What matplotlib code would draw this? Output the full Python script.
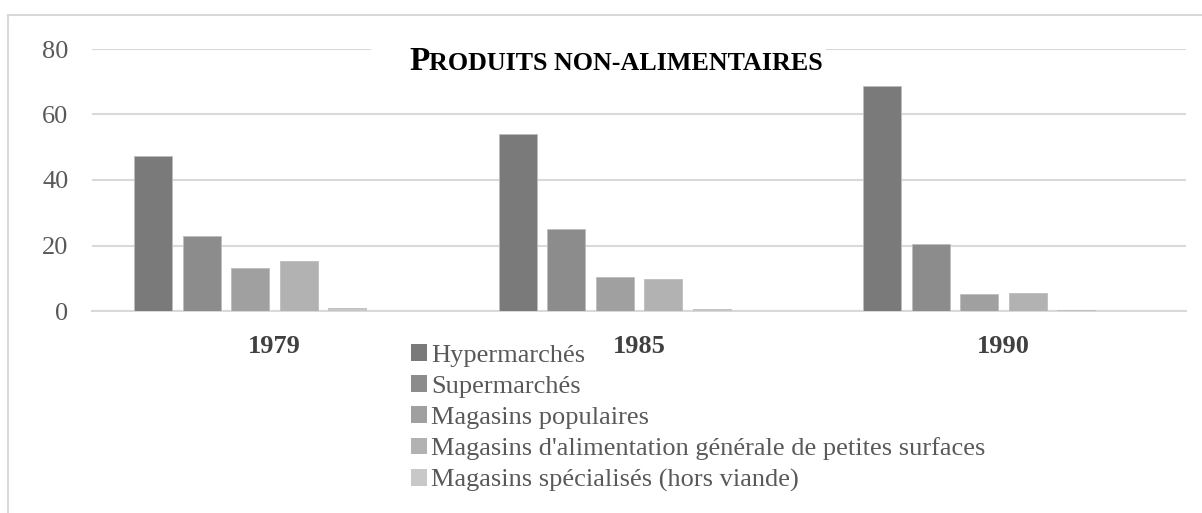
import matplotlib.pyplot as plt
from matplotlib.patches import Patch, Rectangle
from matplotlib.offsetbox import TextArea, HPacker, AnchoredOffsetbox
import numpy as np

plt.rcParams['font.family'] = ['Liberation Serif', 'DejaVu Serif']

years = ['1979', '1985', '1990']
series = ['Hypermarchés', 'Supermarchés', 'Magasins populaires',
          "Magasins d'alimentation générale de petites surfaces",
          'Magasins spécialisés (hors viande)']
values = [
    [47.3, 54.0, 68.7],
    [22.9, 24.9, 20.5],
    [13.2, 10.5, 5.2],
    [15.2, 9.8, 5.5],
    [0.8, 0.7, 0.4],
]
colors = ['#7a7a7a', '#8c8c8c', '#a0a0a0', '#b2b2b2', '#c8c8c8']

W, H = 1202, 513
fig = plt.figure(figsize=(W / 100, H / 100), dpi=100)
ax = fig.add_axes([92 / W, 1 - 311 / H, (1186 - 92) / W, (311 - 49) / H])

# chart frame
fig.patches.append(Rectangle((8 / W, -0.1), 1.2, 1 - 15 / H + 0.1,
                             transform=fig.transFigure, fill=False,
                             edgecolor='#d9d9d9', linewidth=1.5))

x = np.arange(len(years))
slots = 6  # cluster has room for six bars, the last one is empty
pitch = 0.133
width = 0.104
for i, (name, vals) in enumerate(zip(series, values)):
    off = (i - (slots - 1) / 2) * pitch
    ax.bar(x + off, vals, width, color=colors[i], edgecolor='#bdbdbd',
           linewidth=0.6, label=name, zorder=3)

ax.set_xlim(-0.5, 2.5)
ax.set_ylim(0, 80)
ax.set_yticks([0, 20, 40, 60, 80])
ax.set_xticks(x)
ax.set_xticklabels(years, fontweight='bold', fontsize=19, color='#404040')
ax.tick_params(axis='x', length=0, pad=17)
ax.tick_params(axis='y', length=0, pad=17, labelsize=19, labelcolor='#595959')
ax.yaxis.grid(True, color='#d9d9d9', linewidth=1.5, zorder=0)
for s in ['top', 'right', 'left']:
    ax.spines[s].set_visible(False)
ax.spines['bottom'].set_color('#d9d9d9')
ax.spines['bottom'].set_linewidth(1.5)

handles = [Patch(facecolor=c, edgecolor='none') for c in colors]
leg = fig.legend(handles, series, loc='upper left',
                 bbox_to_anchor=(411 / W, 1 - 344 / H),
                 frameon=False, fontsize=19, handlelength=0.6, handleheight=0.6,
                 handletextpad=0.15, labelspacing=0.32, borderpad=0, borderaxespad=0)
for t in leg.get_texts():
    t.set_color('#595959')

# white box behind the title (hides the top gridline)
fig.patches.append(Rectangle((371 / W, 1 - 82 / H), (826 - 371) / W, 42 / H,
                             transform=fig.transFigure, facecolor='white',
                             edgecolor='none', zorder=2))

# small-caps title
parts = [('P', 24), ('RODUITS NON-ALIMENTAIRES', 18.7)]
areas = [TextArea(s, textprops=dict(fontsize=fs, fontweight='bold', color='black'))
         for s, fs in parts]
box = HPacker(children=areas, align='baseline', pad=0, sep=0)
anch = AnchoredOffsetbox(loc='center', child=box, frameon=False,
                         bbox_to_anchor=(616 / W, 1 - 62 / H),
                         bbox_transform=fig.transFigure, borderpad=0, pad=0)
anch.set_zorder(3)
fig.add_artist(anch)

fig.savefig('out.png', dpi=100)
